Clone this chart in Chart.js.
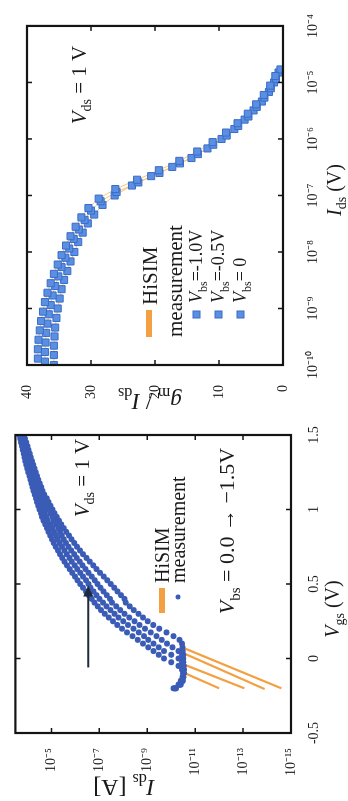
<!DOCTYPE html>
<html>
<head>
<meta charset="utf-8">
<script src="https://cdn.jsdelivr.net/npm/chart.js@4.4.1/dist/chart.umd.min.js"></script>
<style>
  html, body { margin: 0; background: #fff; }
  body { width: 348px; height: 801px; position: relative; overflow: hidden; }
  .panel { position: absolute; transform: rotate(-90deg); }
  #gmPanel { left: -34px; top: 34px; width: 416px; height: 348px; }
  #idsPanel { left: -19px; top: 434px; width: 386px; height: 348px; }
</style>
</head>
<body>
<div class="panel" id="gmPanel"><canvas id="gmChart" width="416" height="348"></canvas></div>
<div class="panel" id="idsPanel"><canvas id="idsChart" width="386" height="348"></canvas></div>
<script>
// ---- gm/Ids vs Ids panel ----
const gmXTicks = [1e-10, 1e-9, 1e-8, 1e-7, 1e-6, 1e-5, 1e-4];
const gmYTicks = [0, 10, 20, 30, 40];

const idsVbs10 = [1.3e-10, 1.9e-10, 2.8e-10, 4.1e-10, 6e-10, 8.8e-10, 1.3e-9, 1.9e-9, 2.8e-9, 4.1e-9, 6e-9, 8.8e-9,
  1.3e-8, 1.9e-8, 2.8e-8, 4.1e-8, 6e-8, 8.8e-8, 1.3e-7, 1.9e-7, 2.8e-7, 4.1e-7, 6e-7, 8.8e-7,
  1.3e-6, 1.9e-6, 2.8e-6, 4.1e-6, 6e-6, 8.8e-6, 1.3e-5];
const gmVbs10 = [38.3, 38.3, 38.2, 38.0, 37.8, 37.5, 37.2, 36.8, 36.3, 35.8, 35.2, 34.6,
  33.9, 33.2, 32.4, 31.5, 30.4, 28.8, 26.2, 22.8, 19.4, 16.2, 13.4, 11.0,
  8.9, 7.1, 5.5, 4.2, 3.0, 2.0, 1.2];

const idsVbs05 = [1.15e-10, 1.7e-10, 2.5e-10, 3.7e-10, 5.4e-10, 7.9e-10, 1.15e-9, 1.7e-9, 2.5e-9, 3.7e-9, 5.4e-9, 7.9e-9,
  1.15e-8, 1.7e-8, 2.5e-8, 3.7e-8, 5.4e-8, 7.9e-8, 1.15e-7, 1.7e-7, 2.5e-7, 3.7e-7, 5.4e-7, 7.9e-7,
  1.15e-6, 1.7e-6, 2.5e-6, 3.7e-6, 5.4e-6, 7.9e-6, 1.15e-5, 1.7e-5];
const gmVbs05 = [37.2, 37.2, 37.1, 37.0, 36.8, 36.6, 36.3, 36.0, 35.6, 35.1, 34.6, 34.0,
  33.4, 32.7, 31.9, 31.0, 30.0, 28.5, 26.0, 22.6, 19.3, 16.1, 13.3, 10.9,
  8.8, 7.0, 5.4, 4.1, 2.9, 1.9, 1.1, 0.4];

const idsVbs0 = [1e-10, 1.5e-10, 2.2e-10, 3.2e-10, 4.6e-10, 6.8e-10, 1e-9, 1.5e-9, 2.2e-9, 3.2e-9, 4.6e-9, 6.8e-9,
  1e-8, 1.5e-8, 2.2e-8, 3.2e-8, 4.6e-8, 6.8e-8, 1e-7, 1.5e-7, 2.2e-7, 3.2e-7, 4.6e-7, 6.8e-7,
  1e-6, 1.5e-6, 2.2e-6, 3.2e-6, 4.6e-6, 6.8e-6, 1e-5, 1.5e-5];
const gmVbs0 = [35.8, 35.8, 35.8, 35.7, 35.6, 35.4, 35.2, 34.9, 34.6, 34.2, 33.7, 33.2,
  32.6, 32.0, 31.3, 30.5, 29.5, 28.2, 26.3, 23.6, 20.6, 17.3, 14.3, 11.8,
  9.6, 7.6, 6.0, 4.6, 3.3, 2.2, 1.4, 0.7];

// ---- Ids vs Vgs panel ----
const vgsTicks = [-0.5, 0, 0.5, 1, 1.5];
const idsTicks = [1e-15, 1e-13, 1e-11, 1e-9, 1e-7, 1e-5];
const idsAxisMin = 1e-15;
const idsAxisMax = 3.2e-4;

const vgs = [-0.2, -0.175, -0.15, -0.125, -0.1, -0.075, -0.05, -0.025,
  0, 0.025, 0.05, 0.075, 0.1, 0.125, 0.15, 0.175, 0.2, 0.225, 0.25, 0.275, 0.3, 0.325, 0.35, 0.375,
  0.4, 0.425, 0.45, 0.475, 0.5, 0.525, 0.55, 0.575, 0.6, 0.625, 0.65, 0.675, 0.7, 0.725, 0.75, 0.775,
  0.8, 0.825, 0.85, 0.875, 0.9, 0.925, 0.95, 0.975, 1, 1.025, 1.05, 1.075, 1.1, 1.125, 1.15, 1.175,
  1.2, 1.225, 1.25, 1.275, 1.3, 1.325, 1.35, 1.375, 1.4, 1.425, 1.45, 1.475, 1.5];

// log10(Ids), one list per Vbs
const logIdsVbs0 = [-10.1, -10.3, -10.4, -10.47, -10.5, -10.45, -10.3, -10.0,
  -9.7, -9.48, -9.26, -9.04, -8.82, -8.6, -8.38, -8.15, -7.94, -7.75, -7.57, -7.39, -7.22, -7.07, -6.93, -6.8,
  -6.68, -6.56, -6.44, -6.32, -6.2, -6.09, -5.98, -5.87, -5.76, -5.65, -5.54, -5.45, -5.36, -5.27, -5.18, -5.1,
  -5.02, -4.95, -4.88, -4.81, -4.74, -4.67, -4.61, -4.56, -4.5, -4.45, -4.4, -4.35, -4.3, -4.25, -4.21, -4.17,
  -4.12, -4.08, -4.03, -3.99, -3.95, -3.91, -3.87, -3.84, -3.8, -3.77, -3.73, -3.7, -3.66];
const logIdsVbs05 = [-10.15, -10.35, -10.45, -10.5, -10.5, -10.52, -10.5, -10.45,
  -10.3, -10.0, -9.7, -9.48, -9.26, -9.04, -8.86, -8.64, -8.42, -8.2, -8.0, -7.8, -7.63, -7.46, -7.3, -7.15,
  -7.01, -6.88, -6.75, -6.63, -6.55, -6.44, -6.32, -6.2, -6.08, -5.97, -5.85, -5.75, -5.64, -5.54, -5.44, -5.35,
  -5.26, -5.19, -5.11, -5.03, -4.95, -4.85, -4.78, -4.72, -4.66, -4.6, -4.55, -4.49, -4.43, -4.38, -4.33, -4.28,
  -4.23, -4.19, -4.13, -4.09, -4.05, -4.0, -3.96, -3.92, -3.88, -3.85, -3.8, -3.77, -3.73];
const logIdsVbs10 = [-10.18, -10.38, -10.47, -10.5, -10.52, -10.52, -10.5, -10.5,
  -10.48, -10.45, -10.3, -10.05, -9.82, -9.6, -9.38, -9.15, -8.9, -8.68, -8.47, -8.25, -8.05, -7.87, -7.7, -7.53,
  -7.44, -7.31, -7.17, -7.05, -6.92, -6.81, -6.68, -6.55, -6.42, -6.3, -6.18, -6.06, -5.95, -5.83, -5.71, -5.61,
  -5.51, -5.43, -5.36, -5.28, -5.19, -5.1, -5.03, -4.95, -4.87, -4.79, -4.72, -4.65, -4.57, -4.51, -4.45, -4.4,
  -4.34, -4.3, -4.24, -4.19, -4.15, -4.1, -4.05, -4.01, -3.96, -3.93, -3.88, -3.84, -3.8];
const logIdsVbs15 = [-10.2, -10.4, -10.48, -10.5, -10.52, -10.52, -10.52, -10.5,
  -10.5, -10.5, -10.48, -10.47, -10.45, -10.35, -10.1, -9.8, -9.5, -9.25, -9.02, -8.82, -8.63, -8.44, -8.27, -8.1,
  -8.05, -7.9, -7.76, -7.62, -7.48, -7.33, -7.18, -7.03, -6.88, -6.74, -6.6, -6.46, -6.32, -6.19, -6.07, -5.95,
  -5.84, -5.73, -5.62, -5.51, -5.41, -5.31, -5.22, -5.13, -5.04, -4.96, -4.88, -4.8, -4.7, -4.63, -4.57, -4.51,
  -4.45, -4.4, -4.34, -4.29, -4.24, -4.19, -4.14, -4.09, -4.04, -4.0, -3.95, -3.9, -3.86];

// HiSIM extensions below the measurement floor (start, end)
const hisimVgs = [[-0.09, -0.2], [-0.035, -0.2], [0.04, -0.205], [0.075, -0.2]];
const hisimLogIds = [[-10.45, -12.0], [-10.45, -13.05], [-10.45, -13.9], [-10.45, -14.6]];

const arrowVgs = [-0.06, 0.49];
const arrowLogIds = -6.54;

// ---------------------------------------------------------------
const SERIF = '"Liberation Serif", "Times New Roman", serif';
const BLUE_SQ = '#5a8fe2';
const BLUE_SQ_EDGE = '#3b6cc6';
const BLUE_DOT = '#3a5cb6';
const ORANGE = '#f3a043';

const supMap = { '-': '⁻', '0': '⁰', '1': '¹', '2': '²', '3': '³', '4': '⁴', '5': '⁵', '6': '⁶', '7': '⁷', '8': '⁸', '9': '⁹' };
const powLabel = v => '10' + String(Math.round(Math.log10(v))).split('').map(c => supMap[c]).join('');

// parts: [text, style]  style: '' normal, 'i' italic, 's' subscript
function richText(ctx, parts, x, y, size, align) {
  let w = 0;
  const runs = parts.map(([t, st]) => {
    const sub = st.includes('s');
    const f = (st.includes('i') ? 'italic ' : '') + (sub ? Math.round(size * 0.68) : size) + 'px ' + SERIF;
    ctx.font = f;
    const tw = ctx.measureText(t).width;
    w += tw;
    return { t, f, tw, dy: sub ? size * 0.26 : 0 };
  });
  let cx = align === 'center' ? x - w / 2 : x;
  ctx.textAlign = 'left';
  ctx.textBaseline = 'alphabetic';
  runs.forEach(r => { ctx.font = r.f; ctx.fillText(r.t, cx, y + r.dy); cx += r.tw; });
}

const framePlugin = {
  id: 'frame',
  afterDatasetsDraw(chart) {
    const { ctx, chartArea: a, scales: { x, y } } = chart;
    ctx.save();
    ctx.strokeStyle = '#141414';
    ctx.lineWidth = 1.5;
    ctx.beginPath();
    x.ticks.forEach(t => {
      const p = x.getPixelForValue(t.value);
      ctx.moveTo(p, a.bottom); ctx.lineTo(p, a.bottom - 5);
      ctx.moveTo(p, a.top); ctx.lineTo(p, a.top + 5);
    });
    y.ticks.forEach(t => {
      const p = y.getPixelForValue(t.value);
      ctx.moveTo(a.left, p); ctx.lineTo(a.left + 5, p);
      ctx.moveTo(a.right, p); ctx.lineTo(a.right - 5, p);
    });
    ctx.stroke();
    ctx.lineWidth = 2.2;
    ctx.strokeRect(a.left, a.top, a.right - a.left, a.bottom - a.top);
    ctx.restore();
  }
};

const gmNotes = {
  id: 'gmNotes',
  afterDraw(chart) {
    const ctx = chart.ctx;
    ctx.save();
    ctx.fillStyle = '#1a1a1a';
    richText(ctx, [['V', 'i'], ['ds', 's'], [' = 1 V', '']], 331, 86, 21, 'center');
    richText(ctx, [['I', 'i'], ['ds', 's'], [' (V)', '']], 226, 341, 20, 'center');
    ctx.save();
    ctx.translate(22, 150);
    ctx.rotate(-Math.PI / 2);
    richText(ctx, [['g', 'i'], ['m', 's'], [' / ', ''], ['I', 'i'], ['ds', 's']], 0, 0, 23, 'center');
    ctx.restore();
    // legend
    ctx.fillStyle = ORANGE;
    ctx.fillRect(79, 146, 27, 6);
    ctx.fillStyle = '#1a1a1a';
    richText(ctx, [['HiSIM', '']], 111, 157, 21, 'left');
    richText(ctx, [['measurement', '']], 79, 182, 21, 'left');
    const rows = [[197, '=-1.0V'], [219, '=-0.5V'], [241, '= 0']];
    rows.forEach(([v, txt]) => {
      ctx.fillStyle = BLUE_SQ;
      ctx.strokeStyle = BLUE_SQ_EDGE;
      ctx.lineWidth = 1;
      ctx.fillRect(98, v - 4, 7, 7);
      ctx.strokeRect(98, v - 4, 7, 7);
      ctx.fillStyle = '#1a1a1a';
      richText(ctx, [['V', 'i'], ['bs', 's'], [txt, '']], 113, v + 5, 18, 'left');
    });
    ctx.restore();
  }
};

const idsNotes = {
  id: 'idsNotes',
  afterDraw(chart) {
    const { ctx, scales: { x, y } } = chart;
    ctx.save();
    ctx.fillStyle = '#1a1a1a';
    richText(ctx, [['V', 'i'], ['ds', 's'], [' = 1 V', '']], 323, 89, 21, 'center');
    richText(ctx, [['V', 'i'], ['bs', 's'], [' = 0.0 → −1.5V', '']], 270, 234, 22, 'center');
    richText(ctx, [['V', 'i'], ['gs', 's'], [' (V)', '']], 192, 339, 20, 'center');
    ctx.save();
    ctx.translate(21, 124);
    ctx.rotate(-Math.PI / 2);
    richText(ctx, [['I', 'i'], ['ds', 's'], [' [A]', '']], 0, 0, 24, 'center');
    ctx.restore();
    // legend
    ctx.fillStyle = ORANGE;
    ctx.fillRect(188, 159, 25, 6);
    ctx.fillStyle = '#1a1a1a';
    richText(ctx, [['HiSIM', '']], 218, 169, 20, 'left');
    ctx.fillStyle = BLUE_DOT;
    ctx.beginPath();
    ctx.arc(204, 178, 2.5, 0, Math.PI * 2);
    ctx.fill();
    ctx.fillStyle = '#1a1a1a';
    richText(ctx, [['measurement', '']], 218, 185, 20, 'left');
    // arrow across the Vbs family
    const x0 = x.getPixelForValue(arrowVgs[0]);
    const x1 = x.getPixelForValue(arrowVgs[1]);
    const py = y.getPixelForValue(10 ** arrowLogIds);
    ctx.strokeStyle = '#1d2a40';
    ctx.fillStyle = '#1d2a40';
    ctx.lineWidth = 2;
    ctx.beginPath();
    ctx.moveTo(x0, py); ctx.lineTo(x1 - 8, py);
    ctx.stroke();
    ctx.beginPath();
    ctx.moveTo(x1, py); ctx.lineTo(x1 - 11, py - 5); ctx.lineTo(x1 - 11, py + 5); ctx.closePath();
    ctx.fill();
    ctx.restore();
  }
};

const tickFont = { family: SERIF, size: 14 };

function squares(ids, gm) {
  return {
    data: ids.map((v, i) => ({ x: v, y: gm[i] })),
    pointStyle: 'rect', pointRadius: 5, backgroundColor: BLUE_SQ, borderColor: BLUE_SQ_EDGE, borderWidth: 1
  };
}
function modelLine(ids, gm) {
  return {
    data: ids.map((v, i) => ({ x: v, y: gm[i] })),
    showLine: true, pointRadius: 0, borderColor: '#f6c27e', borderWidth: 1
  };
}

new Chart(document.getElementById('gmChart'), {
  type: 'scatter',
  data: {
    datasets: [
      squares(idsVbs10, gmVbs10),
      squares(idsVbs05, gmVbs05),
      squares(idsVbs0, gmVbs0),
      modelLine(idsVbs10, gmVbs10),
      modelLine(idsVbs05, gmVbs05),
      modelLine(idsVbs0, gmVbs0)
    ]
  },
  options: {
    responsive: false, animation: false, events: [],
    layout: { padding: { top: 27, right: 15, left: 0, bottom: 0 } },
    plugins: { legend: { display: false }, tooltip: { enabled: false } },
    scales: {
      x: {
        type: 'logarithmic', min: gmXTicks[0], max: gmXTicks[gmXTicks.length - 1],
        afterBuildTicks: s => { s.ticks = gmXTicks.map(v => ({ value: v })); },
        afterFit: s => { s.height = 65; },
        grid: { display: false }, border: { display: false },
        ticks: { padding: 14, color: '#1a1a1a', font: tickFont, autoSkip: false, maxRotation: 0, callback: v => powLabel(v) }
      },
      y: {
        min: gmYTicks[0], max: gmYTicks[gmYTicks.length - 1],
        afterBuildTicks: s => { s.ticks = gmYTicks.map(v => ({ value: v })); },
        afterFit: s => { s.width = 51; },
        grid: { display: false }, border: { display: false },
        ticks: { padding: 12, color: '#1a1a1a', font: tickFont }
      }
    }
  },
  plugins: [framePlugin, gmNotes]
});

function dots(logIds) {
  return {
    data: vgs.map((v, i) => ({ x: v, y: 10 ** logIds[i] })),
    pointRadius: 3, pointBorderWidth: 0, backgroundColor: BLUE_DOT, borderColor: BLUE_DOT
  };
}
function hisim(k) {
  return {
    data: hisimVgs[k].map((v, i) => ({ x: v, y: 10 ** hisimLogIds[k][i] })),
    showLine: true, pointRadius: 0, borderColor: ORANGE, borderWidth: 2.2
  };
}

new Chart(document.getElementById('idsChart'), {
  type: 'scatter',
  data: {
    datasets: [
      dots(logIdsVbs0), dots(logIdsVbs05), dots(logIdsVbs10), dots(logIdsVbs15),
      hisim(0), hisim(1), hisim(2), hisim(3)
    ]
  },
  options: {
    responsive: false, animation: false, events: [],
    layout: { padding: { top: 15, right: 20, left: 0, bottom: 0 } },
    plugins: { legend: { display: false }, tooltip: { enabled: false } },
    scales: {
      x: {
        min: vgsTicks[0], max: vgsTicks[vgsTicks.length - 1],
        afterBuildTicks: s => { s.ticks = vgsTicks.map(v => ({ value: v })); },
        afterFit: s => { s.height = 57; },
        grid: { display: false }, border: { display: false },
        ticks: { padding: 7, color: '#1a1a1a', font: tickFont, autoSkip: false, maxRotation: 0, callback: v => String(v) }
      },
      y: {
        type: 'logarithmic', min: idsAxisMin, max: idsAxisMax,
        afterBuildTicks: s => { s.ticks = idsTicks.map(v => ({ value: v })); },
        afterFit: s => { s.width = 68; },
        grid: { display: false }, border: { display: false },
        ticks: { padding: 7, color: '#1a1a1a', font: tickFont, callback: v => powLabel(v) }
      }
    }
  },
  plugins: [framePlugin, idsNotes]
});
</script>
</body>
</html>
